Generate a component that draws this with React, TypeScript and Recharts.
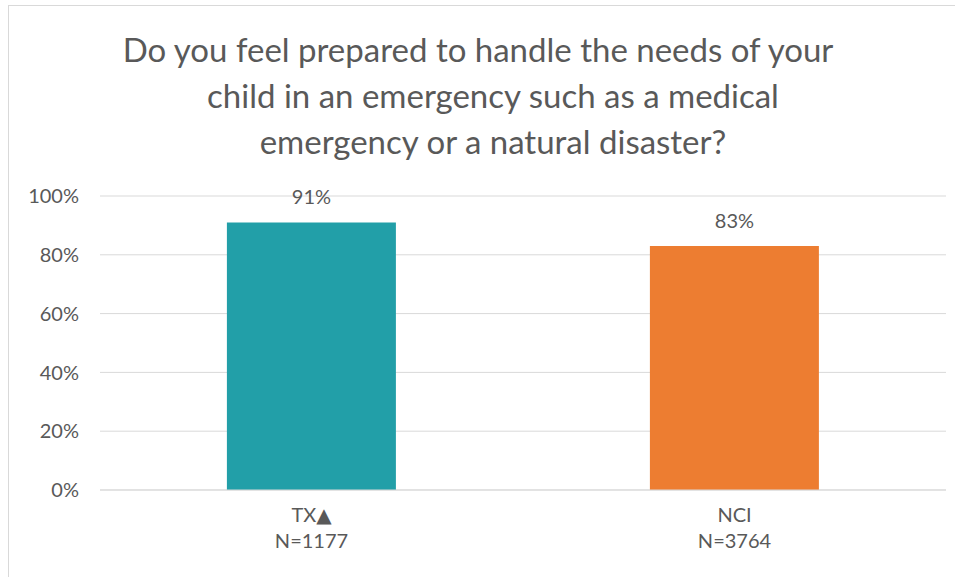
import { BarChart, Bar, XAxis, YAxis, CartesianGrid, LabelList, Cell } from 'recharts'

const categories = ['TX▲', 'NCI']
const sampleSizes = ['N=1177', 'N=3764']
const prepared = [91, 83]
const barColors = ['#229FA8', '#ED7D31']
const yTicks = [0, 20, 40, 60, 80, 100]
const titleLines = [
  'Do you feel prepared to handle the needs of your',
  'child in an emergency such as a medical',
  'emergency or a natural disaster?',
]

const data = categories.map((name, i) => ({ name, n: sampleSizes[i], value: prepared[i] }))

const FONT = 'Lato, "Open Sans", "DejaVu Sans", sans-serif'
const TEXT = '#595959'

const CategoryTick = (props: any) => {
  const { x, y, index } = props
  return (
    <text x={x} textAnchor="middle" fill={TEXT} fontSize={20} fontFamily={FONT}>
      <tspan x={x} y={y + 32}>{categories[index]}</tspan>
      <tspan x={x} y={y + 58}>{sampleSizes[index]}</tspan>
    </text>
  )
}

export default function App() {
  return (
    <div style={{ position: 'absolute', left: 0, top: 0, width: 955, height: 577, background: '#fff', overflow: 'hidden', fontFamily: FONT }}>
      {/* chart frame */}
      <div style={{ position: 'absolute', left: 8, top: 5, width: 1000, height: 650, border: '1px solid #d9d9d9' }} />
      {/* title */}
      <div style={{ position: 'absolute', left: 0, top: 26, width: 986, textAlign: 'center', color: TEXT, fontSize: 33, lineHeight: '46px' }}>
        {titleLines.map((t, i) => (
          <div key={i} style={{ paddingRight: i === 0 ? 30 : 0 }}>{t}</div>
        ))}
      </div>
      <div style={{ position: 'absolute', left: 0, top: 0 }}>
        <BarChart width={955} height={577} data={data} margin={{ top: 196, right: 9, bottom: 57, left: 0 }} barCategoryGap="30%">
          <CartesianGrid vertical={false} stroke="#d9d9d9" strokeWidth={1} />
          <XAxis dataKey="name" height={30} axisLine={{ stroke: '#d9d9d9' }} tickLine={false} tickSize={0} tickMargin={0} tick={<CategoryTick />} interval={0} />
          <YAxis
            width={100}
            domain={[0, 100]}
            ticks={yTicks}
            tickFormatter={(v) => `${v}%`}
            axisLine={false}
            tickLine={false}
            tickSize={0}
            tickMargin={21}
            tick={{ fill: TEXT, fontSize: 20, fontFamily: FONT }}
          />
          <Bar dataKey="value" isAnimationActive={false}>
            {data.map((d, i) => (
              <Cell key={d.name} fill={barColors[i]} />
            ))}
            <LabelList dataKey="value" position="top" offset={18} formatter={(v: any) => `${v}%`} fill={TEXT} fontSize={20} fontFamily={FONT} />
          </Bar>
        </BarChart>
      </div>
    </div>
  )
}
